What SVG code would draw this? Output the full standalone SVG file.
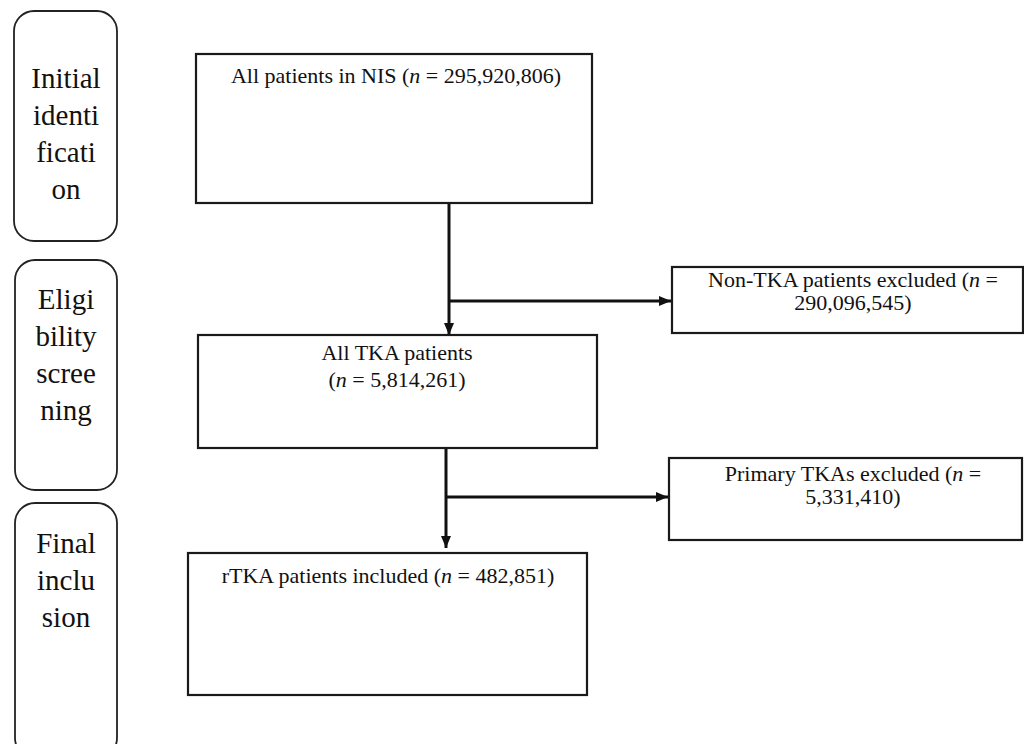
<svg xmlns="http://www.w3.org/2000/svg" width="1024" height="744" viewBox="0 0 1024 744">
<style>
.stage{fill:#fff;stroke:#222;stroke-width:1.8}
.box{fill:#fff;stroke:#1a1a1a;stroke-width:2.2}
.t{font-family:"Liberation Serif","Times New Roman",serif;fill:#111;text-anchor:middle}
.st{font-size:29px}
.bt{font-size:22px}
.conn{stroke:#111;stroke-width:3;fill:none}
</style>
<defs>
<marker id="ah" viewBox="0 0 12 10" refX="12" refY="5" markerWidth="12" markerHeight="10" markerUnits="userSpaceOnUse" orient="auto">
<path d="M0,0 L12,5 L0,10 Z" fill="#111"/>
</marker>
</defs>
<g id="stage-initial">
<rect class="stage" x="14" y="11" width="103" height="230" rx="20"/>
<text class="t st" x="66" y="88">Initial</text>
<text class="t st" x="66" y="125">identi</text>
<text class="t st" x="66" y="162">ficati</text>
<text class="t st" x="66" y="199">on</text>
</g>
<g id="stage-eligibility">
<rect class="stage" x="15" y="260" width="102" height="230" rx="20"/>
<text class="t st" x="66" y="309">Eligi</text>
<text class="t st" x="66" y="346">bility</text>
<text class="t st" x="66" y="383">scree</text>
<text class="t st" x="66" y="420">ning</text>
</g>
<g id="stage-final">
<rect class="stage" x="15" y="503" width="102" height="255" rx="20"/>
<text class="t st" x="66" y="553">Final</text>
<text class="t st" x="66" y="590">inclu</text>
<text class="t st" x="66" y="627">sion</text>
</g>
<g id="connectors">
<line class="conn" x1="449" y1="204" x2="449" y2="335" marker-end="url(#ah)"/>
<line class="conn" x1="449" y1="301" x2="671" y2="301" marker-end="url(#ah)"/>
<line class="conn" x1="446" y1="449" x2="446" y2="548" marker-end="url(#ah)"/>
<line class="conn" x1="446" y1="497" x2="668" y2="497" marker-end="url(#ah)"/>
</g>
<g id="all-nis">
<rect class="box" x="196" y="54" width="396" height="149"/>
<text class="t bt" x="396" y="83">All patients in NIS (<tspan font-style="italic">n</tspan> = 295,920,806)</text>
</g>
<g id="non-tka">
<rect class="box" x="672" y="267" width="351" height="66"/>
<text class="t bt" x="853" y="287">Non-TKA patients excluded (<tspan font-style="italic">n</tspan> =</text>
<text class="t bt" x="853" y="310">290,096,545)</text>
</g>
<g id="all-tka">
<rect class="box" x="198" y="335" width="399" height="113"/>
<text class="t bt" x="397" y="360">All TKA patients</text>
<text class="t bt" x="397" y="387">(<tspan font-style="italic">n</tspan> = 5,814,261)</text>
</g>
<g id="primary-tka">
<rect class="box" x="669" y="458" width="353" height="82"/>
<text class="t bt" x="853" y="481">Primary TKAs excluded (<tspan font-style="italic">n</tspan> =</text>
<text class="t bt" x="853" y="504">5,331,410)</text>
</g>
<g id="rtka">
<rect class="box" x="188" y="553" width="399" height="142"/>
<text class="t bt" x="388" y="583">rTKA patients included (<tspan font-style="italic">n</tspan> = 482,851)</text>
</g>
</svg>
